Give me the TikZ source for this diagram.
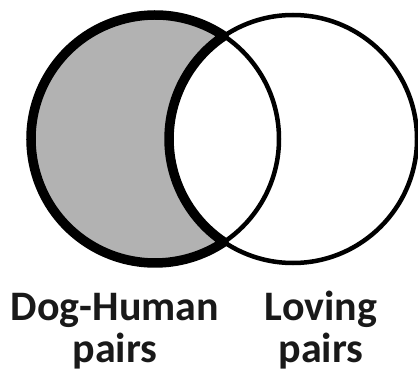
\documentclass[tikz,border=0pt]{standalone}
\usepackage{fontspec}
\setmainfont{Carlito}
\begin{document}
\begin{tikzpicture}[x=1pt,y=1pt,
  thinc/.style={line width=4.5pt},
  crescent/.style={line width=9.5pt, line join=round},
  lbl/.style={font=\fontsize{42}{48}\selectfont\bfseries, anchor=base, inner sep=0pt, text=black!90}]
\useasboundingbox (0,0) rectangle (418,373);
\coordinate (L) at (155,234);
\coordinate (R) at (293,234);
% shaded region (left circle minus intersection)
\fill[black!30] (L) circle[radius=124];
\begin{scope}
  \clip (R) circle[radius=124];
  \fill[white] (L) circle[radius=124];
\end{scope}
% thick crescent outline
\draw[crescent] ([shift={(56.18:124)}]L) arc[start angle=56.18, end angle=303.82, radius=124]
  arc[start angle=236.18, end angle=123.82, radius=124] -- cycle;
% thin circles
\draw[thinc] (L) circle[radius=124];
\draw[thinc] (R) circle[radius=124];
% labels
\node[lbl] (dh1) at (115,53) {Dog-Human};
\node[lbl] (dh2) at (115,11) {pairs};
\node[lbl] (lv1) at (321,53) {Loving};
\node[lbl] (lv2) at (321,11) {pairs};
\end{tikzpicture}
\end{document}
